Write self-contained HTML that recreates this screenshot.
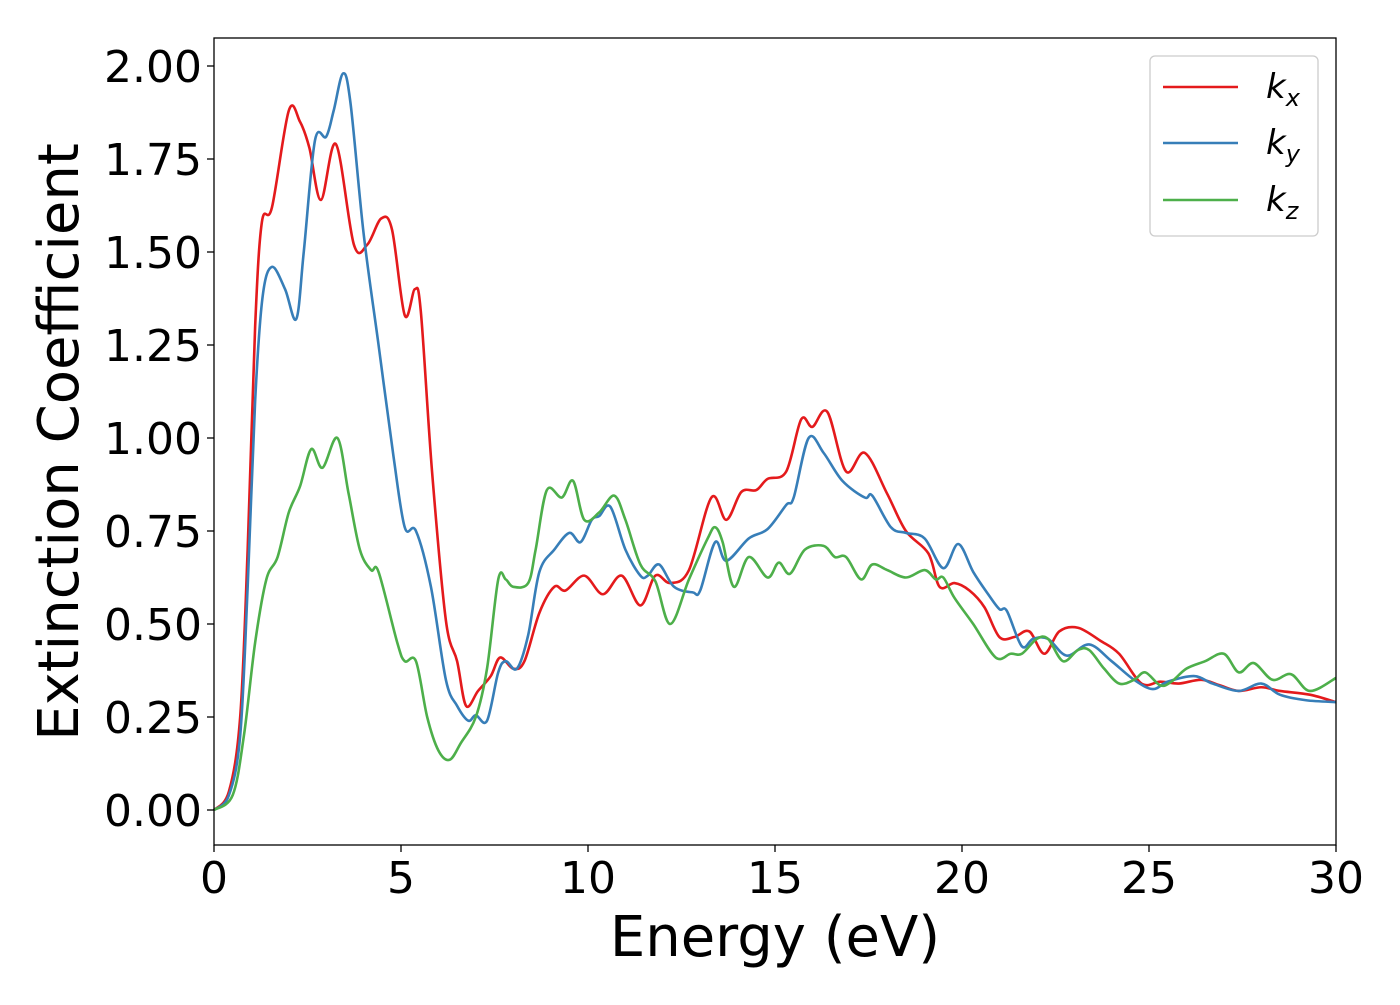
<!DOCTYPE html>
<html><head><meta charset="utf-8"><style>
body{margin:0;background:#fff}
text{font-family:"DejaVu Sans","Liberation Sans",sans-serif}
</style></head><body>
<svg id="chart" width="1400" height="1000" xmlns="http://www.w3.org/2000/svg">
<rect width="1400" height="1000" fill="#fff"/>
<g id="lines"></g>
<rect x="214" y="38" width="1122" height="807" fill="none" stroke="#000" stroke-width="1.3"/>
<g id="axes"></g>
<text x="775" y="956" font-size="56" text-anchor="middle">Energy (eV)</text>
<text transform="translate(78,442) rotate(-90)" font-size="56" text-anchor="middle">Extinction Coefficient</text>
<g>
<rect x="1150" y="56" width="168" height="180" rx="5" fill="#fff" stroke="#ccc" stroke-width="1.3"/>
<line x1="1163" y1="87" x2="1238" y2="87" stroke="#e41a1c" stroke-width="2.6"/>
<text x="1266" y="98" font-size="34" font-style="italic">k<tspan font-size="24" dy="8">x</tspan></text>
<line x1="1163" y1="143" x2="1238" y2="143" stroke="#377eb8" stroke-width="2.6"/>
<text x="1266" y="154" font-size="34" font-style="italic">k<tspan font-size="24" dy="8">y</tspan></text>
<line x1="1163" y1="200" x2="1238" y2="200" stroke="#4daf4a" stroke-width="2.6"/>
<text x="1266" y="211" font-size="34" font-style="italic">k<tspan font-size="24" dy="8">z</tspan></text>
</g>
</svg>
<script>
const xTicks=[0,5,10,15,20,25,30];
const yTicks=[0,0.25,0.5,0.75,1.0,1.25,1.5,1.75,2.0];
const kxE=[0,0.4,0.7,0.9,1.1,1.28,1.55,2.0,2.3,2.55,2.86,3.26,3.74,4.1,4.47,4.76,5.1,5.37,5.53,5.83,6.2,6.5,6.74,7.06,7.4,7.65,8.0,8.3,8.7,9.1,9.4,9.9,10.4,10.9,11.4,11.8,12.2,12.7,13.3,13.7,14.1,14.5,14.8,15.3,15.7,16.0,16.4,16.9,17.4,18.0,18.5,19.1,19.4,19.8,20.2,20.6,21.0,21.4,21.8,22.2,22.6,23.1,23.7,24.2,24.8,25.3,25.8,26.4,26.9,27.4,28.0,28.5,29.3,30];
const kxV=[0,0.05,0.25,0.7,1.3,1.58,1.62,1.88,1.85,1.78,1.64,1.79,1.52,1.52,1.59,1.56,1.33,1.40,1.34,0.91,0.51,0.40,0.28,0.32,0.36,0.41,0.38,0.40,0.53,0.60,0.59,0.63,0.58,0.63,0.55,0.63,0.61,0.645,0.84,0.78,0.855,0.86,0.89,0.91,1.05,1.03,1.07,0.91,0.96,0.85,0.75,0.69,0.60,0.61,0.59,0.545,0.465,0.465,0.48,0.42,0.48,0.49,0.455,0.42,0.34,0.345,0.34,0.35,0.335,0.32,0.33,0.32,0.31,0.29];
const kyE=[0,0.4,0.7,0.9,1.1,1.3,1.55,1.9,2.2,2.4,2.7,3.0,3.2,3.45,3.65,4.0,4.4,4.8,5.1,5.4,5.8,6.2,6.5,6.8,7.0,7.3,7.6,7.8,8.1,8.4,8.7,9.1,9.5,9.8,10.1,10.3,10.6,11.0,11.4,11.6,11.9,12.3,12.8,13.0,13.4,13.7,14.3,14.8,15.3,15.5,15.9,16.3,16.8,17.4,17.6,18.1,18.5,19.0,19.5,19.9,20.3,20.7,21.0,21.2,21.6,21.9,22.3,22.8,23.4,24.0,24.6,25.1,25.5,26.2,26.7,27.4,28.0,28.5,29.2,30];
const kyV=[0,0.04,0.2,0.6,1.1,1.38,1.46,1.4,1.32,1.5,1.8,1.81,1.88,1.98,1.9,1.55,1.25,0.95,0.76,0.75,0.6,0.35,0.28,0.24,0.255,0.24,0.37,0.40,0.38,0.47,0.64,0.70,0.745,0.72,0.78,0.79,0.815,0.70,0.63,0.63,0.66,0.60,0.585,0.59,0.72,0.67,0.73,0.755,0.82,0.84,1.00,0.96,0.885,0.84,0.845,0.76,0.745,0.73,0.65,0.715,0.64,0.58,0.54,0.535,0.44,0.46,0.46,0.415,0.445,0.40,0.35,0.325,0.345,0.36,0.34,0.32,0.34,0.31,0.295,0.29];
const kzE=[0,0.5,0.8,1.1,1.4,1.7,2.0,2.3,2.6,2.9,3.3,3.6,3.9,4.2,4.4,4.9,5.1,5.4,5.7,6.0,6.3,6.6,7.0,7.3,7.6,7.8,8.0,8.4,8.6,8.9,9.3,9.6,9.9,10.3,10.7,11.0,11.4,11.8,12.2,12.7,13.2,13.4,13.6,13.9,14.3,14.8,15.1,15.4,15.8,16.3,16.6,16.9,17.3,17.6,18.0,18.5,19.0,19.3,19.5,19.8,20.3,20.9,21.3,21.6,22.0,22.3,22.7,23.1,23.4,23.8,24.2,24.6,24.9,25.3,25.6,26.0,26.5,27.0,27.4,27.8,28.3,28.8,29.3,30];
const kzV=[0,0.04,0.2,0.45,0.62,0.68,0.80,0.87,0.97,0.92,1.00,0.85,0.70,0.645,0.64,0.45,0.40,0.40,0.25,0.16,0.135,0.18,0.25,0.38,0.62,0.62,0.60,0.61,0.70,0.86,0.84,0.885,0.78,0.80,0.845,0.78,0.66,0.615,0.50,0.62,0.73,0.76,0.72,0.60,0.68,0.625,0.665,0.635,0.70,0.71,0.68,0.68,0.62,0.66,0.645,0.625,0.645,0.62,0.625,0.57,0.50,0.41,0.42,0.42,0.46,0.46,0.40,0.43,0.43,0.38,0.34,0.35,0.37,0.335,0.345,0.38,0.40,0.42,0.37,0.395,0.35,0.365,0.32,0.355];
const X=e=>214+e*(1122/30);
const Y=v=>810-v*372;
const NS="http://www.w3.org/2000/svg";
const axes=document.getElementById('axes');
xTicks.forEach(t=>{
  const l=document.createElementNS(NS,'line');
  
  
  l.setAttribute('x1',X(t));l.setAttribute('x2',X(t));l.setAttribute('y1',845);l.setAttribute('y2',852);l.setAttribute('stroke','#000');l.setAttribute('stroke-width','1.3');
  axes.appendChild(l);
  const tx=document.createElementNS(NS,'text');
  
  
  tx.setAttribute('x',X(t));tx.setAttribute('y',893);tx.setAttribute('font-size','44');tx.setAttribute('text-anchor','middle');
  tx.textContent=t;axes.appendChild(tx);
});
yTicks.forEach(t=>{
  const l=document.createElementNS(NS,'line');
  
  
  l.setAttribute('x1',207);l.setAttribute('x2',214);l.setAttribute('y1',Y(t));l.setAttribute('y2',Y(t));l.setAttribute('stroke','#000');l.setAttribute('stroke-width','1.3');
  axes.appendChild(l);
  const tx=document.createElementNS(NS,'text');
  
  
  tx.setAttribute('x',202);tx.setAttribute('y',Y(t)+16);tx.setAttribute('font-size','44');tx.setAttribute('text-anchor','end');
  tx.textContent=t.toFixed(2);axes.appendChild(tx);
});
function pathFor(E,V){
  const p=E.map((e,i)=>[X(e),Y(V[i])]);
  let d='M'+p[0][0]+','+p[0][1];
  for(let i=0;i<p.length-1;i++){
    const p0=p[Math.max(0,i-1)],p1=p[i],p2=p[i+1],p3=p[Math.min(p.length-1,i+2)];
    const c1x=p1[0]+(p2[0]-p0[0])/6,c1y=p1[1]+(p2[1]-p0[1])/6;
    const c2x=p2[0]-(p3[0]-p1[0])/6,c2y=p2[1]-(p3[1]-p1[1])/6;
    d+=' C'+c1x+','+c1y+' '+c2x+','+c2y+' '+p2[0]+','+p2[1];
  }
  return d;
}
const g=document.getElementById('lines');
[[kxE,kxV,'#e41a1c','line-kx'],[kyE,kyV,'#377eb8','line-ky'],[kzE,kzV,'#4daf4a','line-kz']].forEach(s=>{
  const pa=document.createElementNS(NS,'path');
  
  
  pa.setAttribute('d',pathFor(s[0],s[1]));pa.setAttribute('fill','none');pa.setAttribute('stroke',s[2]);pa.setAttribute('stroke-width','2.6');
  g.appendChild(pa);
});
</script>
</body></html>
